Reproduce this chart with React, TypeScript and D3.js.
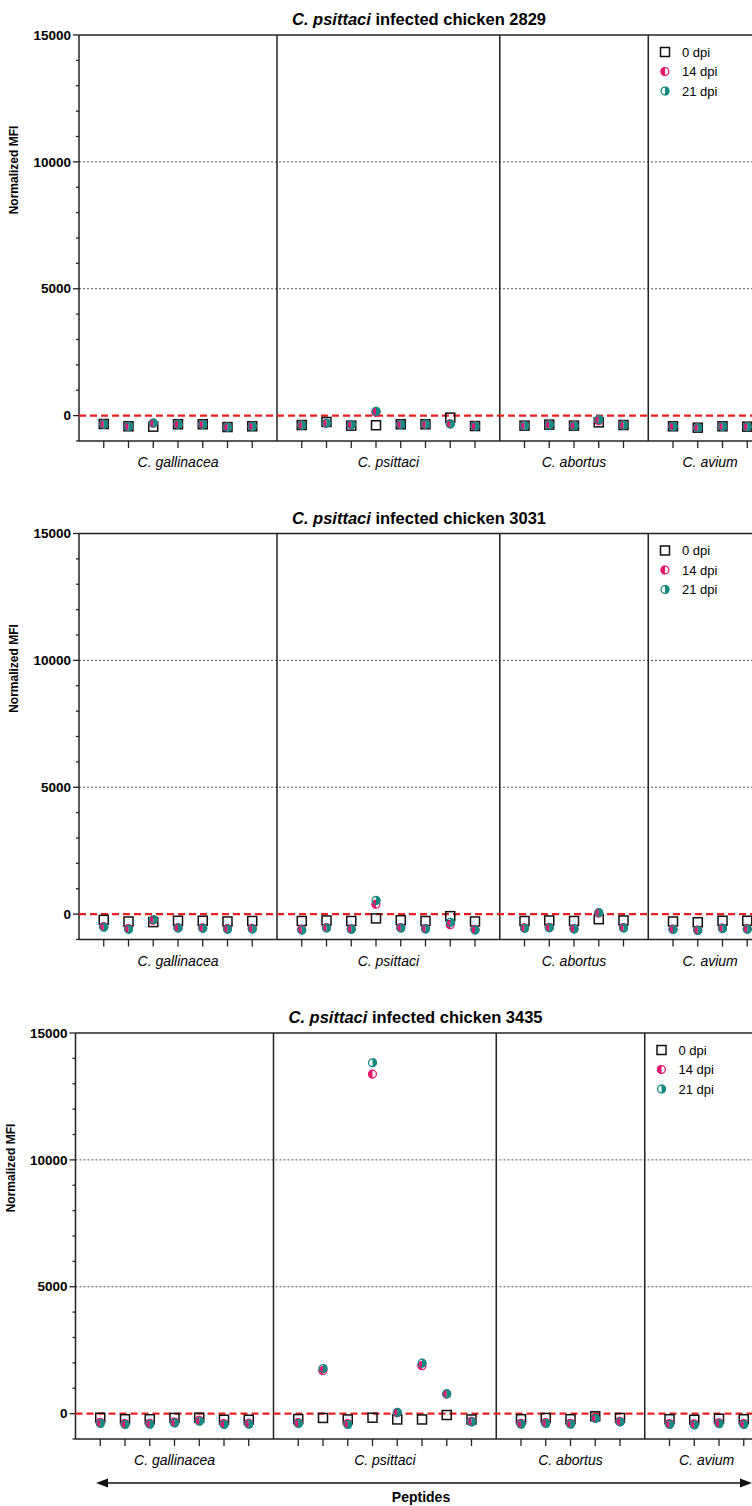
import React from "react";
import * as d3 from "d3";

const groups = ["C. gallinacea", "C. psittaci", "C. abortus", "C. avium"];
const groupSizes = [7, 8, 5, 4];
const yTicks = [0, 5000, 10000, 15000];
const minorTicks = d3.range(-1000, 15001, 1000);
const gridTicks = [5000, 10000];
const dpiLabels = ["0 dpi", "14 dpi", "21 dpi"];
const chickens = ["2829", "3031", "3435"];

// chicken 2829
const c2829_d0 = [-330, -420, -435, -340, -340, -450, -420, -370, -250, -395, -380, -340, -340, -80, -410, -395, -355, -395, -265, -370, -420, -475, -420, -435];
const c2829_d14 = [-330, -420, -300, -340, -340, -450, -420, -370, -300, -355, 130, -340, -340, -320, -410, -395, -355, -395, -200, -370, -420, -475, -420, -435];
const c2829_d21 = [-340, -425, -290, -335, -345, -455, -425, -375, -295, -360, 170, -345, -335, -330, -415, -400, -360, -400, -150, -375, -425, -480, -425, -440];
// chicken 3031
const c3031_d0 = [-225, -290, -315, -260, -260, -290, -270, -270, -250, -270, -170, -240, -270, -80, -290, -270, -250, -270, -200, -250, -290, -320, -260, -260];
const c3031_d14 = [-490, -570, -240, -530, -540, -570, -560, -600, -530, -580, 390, -530, -570, -420, -600, -540, -520, -570, 40, -530, -590, -630, -550, -580];
const c3031_d21 = [-520, -600, -210, -550, -560, -600, -590, -630, -550, -600, 540, -550, -590, -320, -630, -560, -540, -590, 60, -550, -610, -650, -570, -600];
// chicken 3435
const c3435_d0 = [-160, -220, -220, -170, -160, -240, -240, -215, -170, -230, -160, -230, -230, -55, -230, -220, -170, -220, -105, -170, -220, -240, -200, -220];
const c3435_d14 = [-340, -390, -380, -330, -260, -390, -380, -350, 1700, -390, 13380, 30, 1890, 770, -300, -380, -350, -380, -170, -300, -390, -400, -360, -390];
const c3435_d21 = [-390, -430, -420, -370, -300, -430, -420, -390, 1780, -430, 13830, 50, 1990, 780, -330, -420, -390, -420, -190, -330, -430, -450, -400, -430];

const panelData = [
  [c2829_d0, c2829_d14, c2829_d21],
  [c3031_d0, c3031_d14, c3031_d21],
  [c3435_d0, c3435_d14, c3435_d21],
];

const PINK = "#E5186F";
const TEAL = "#138A82";
const FONT = "Arial, 'Liberation Sans', sans-serif";

// slot layout: gap slot between groups
const slots: number[] = [];
const separators: number[] = [];
const groupCenters: number[] = [];
{
  let s = 1;
  groupSizes.forEach((n, gi) => {
    const start = s;
    for (let i = 0; i < n; i++) slots.push(s++);
    groupCenters.push((start + s - 1) / 2);
    if (gi < groupSizes.length - 1) separators.push(s);
    s++;
  });
}
const lastSlot = slots[slots.length - 1] + 1;

const R = 4.5;
const SQ = 9;

function HalfCircle({ cx, cy, color, side }: { cx: number; cy: number; color: string; side: "left" | "right" }) {
  const sweep = side === "left" ? 0 : 1;
  const d = `M${cx},${cy - R} A${R},${R} 0 0 ${sweep} ${cx},${cy + R} Z`;
  return (
    <g>
      <path d={d} fill={color} />
      <circle cx={cx} cy={cy} r={R - 0.6} fill="none" stroke={color} strokeWidth={1.3} />
    </g>
  );
}

function Panel({ idx, dy, dx }: { idx: number; dy: number; dx: number }) {
  const top = 35 + dy;
  const bottom = 441 + dy;
  const left = 79 + dx;
  const x = d3.scaleLinear().domain([0, 28]).range([left, left + 28 * 24.75]);
  const y = d3.scaleLinear().domain([-1000, 15000]).range([bottom, top]);
  const right = x(lastSlot);
  const [d0, d14, d21] = panelData[idx];
  return (
    <g>
      <text x={419 + dx} y={25 + dy} textAnchor="middle" fontFamily={FONT} fontWeight="bold" fontSize={16.5}>
        <tspan fontStyle="italic">C. psittaci</tspan> infected chicken {chickens[idx]}
      </text>
      {gridTicks.map((t) => (
        <line key={t} x1={left} x2={right} y1={y(t)} y2={y(t)} stroke="#555" strokeWidth={1} strokeDasharray="2,2" />
      ))}
      {/* frame */}
      <line x1={left} x2={right} y1={top} y2={top} stroke="#222" strokeWidth={1.5} />
      <line x1={left} x2={right} y1={bottom} y2={bottom} stroke="#222" strokeWidth={1.5} />
      <line x1={left} x2={left} y1={top} y2={bottom} stroke="#222" strokeWidth={1.5} />
      {separators.map((s) => (
        <line key={s} x1={x(s)} x2={x(s)} y1={top} y2={bottom} stroke="#222" strokeWidth={1.5} />
      ))}
      {/* y ticks */}
      {minorTicks.map((t) => (
        <line key={t} x1={left - (yTicks.includes(t) ? 6 : 3)} x2={left} y1={y(t)} y2={y(t)} stroke="#222" strokeWidth={1.3} />
      ))}
      {yTicks.map((t) => (
        <text key={t} x={left - 8} y={y(t)} dy="0.35em" textAnchor="end" fontFamily={FONT} fontWeight="bold" fontSize={13.5}>
          {t}
        </text>
      ))}
      <text
        transform={`translate(${18 + dx},${top + 135}) rotate(-90)`}
        textAnchor="middle"
        fontFamily={FONT}
        fontWeight="bold"
        fontSize={12}
      >
        Normalized MFI
      </text>
      {/* x ticks */}
      {slots.map((s) => (
        <line key={s} x1={x(s)} x2={x(s)} y1={bottom} y2={bottom + 7} stroke="#222" strokeWidth={1.3} />
      ))}
      {groups.map((g, gi) => (
        <text key={g} x={x(groupCenters[gi])} y={bottom + 26} textAnchor="middle" fontFamily={FONT} fontStyle="italic" fontSize={14}>
          {g}
        </text>
      ))}
      {/* zero line */}
      <line x1={left} x2={right} y1={y(0)} y2={y(0)} stroke="#E8201F" strokeWidth={2.2} strokeDasharray="7,4" />
      {/* data */}
      {d0.map((v, i) => (
        <rect key={"a" + i} x={x(slots[i]) - SQ / 2} y={y(v) - SQ / 2} width={SQ} height={SQ} fill="none" stroke="#111" strokeWidth={1.5} />
      ))}
      {d14.map((v, i) => (
        <HalfCircle key={"b" + i} cx={x(slots[i])} cy={y(v)} color={PINK} side="left" />
      ))}
      {d21.map((v, i) => (
        <HalfCircle key={"c" + i} cx={x(slots[i])} cy={y(v)} color={TEAL} side="right" />
      ))}
      {/* legend */}
      {dpiLabels.map((l, li) => {
        const ly = top + 17 + li * 19.5;
        const lx = 665 + dx;
        return (
          <g key={l}>
            {li === 0 ? (
              <rect x={lx - SQ / 2} y={ly - SQ / 2} width={SQ} height={SQ} fill="none" stroke="#111" strokeWidth={1.5} />
            ) : (
              <HalfCircle cx={lx} cy={ly} color={li === 1 ? PINK : TEAL} side={li === 1 ? "left" : "right"} />
            )}
            <text x={lx + 17} y={ly} dy="0.35em" fontFamily={FONT} fontSize={13}>
              {l}
            </text>
          </g>
        );
      })}
    </g>
  );
}

export default function App() {
  const arrowY = 1483;
  return (
    <svg width={752} height={1506} style={{ position: "absolute", left: 0, top: 0, background: "#fff" }}>
      <rect width={752} height={1506} fill="#fff" />
      <Panel idx={0} dy={0} dx={0} />
      <Panel idx={1} dy={498.5} dx={0} />
      <Panel idx={2} dy={998} dx={-3.5} />
      <line x1={104} x2={744} y1={arrowY} y2={arrowY} stroke="#111" strokeWidth={1.5} />
      <path d={`M96,${arrowY} L108,${arrowY - 4.5} L108,${arrowY + 4.5} Z`} fill="#111" />
      <path d={`M752,${arrowY} L740,${arrowY - 4.5} L740,${arrowY + 4.5} Z`} fill="#111" />
      <text x={421} y={1502} textAnchor="middle" fontFamily={FONT} fontWeight="bold" fontSize={14}>
        Peptides
      </text>
    </svg>
  );
}
